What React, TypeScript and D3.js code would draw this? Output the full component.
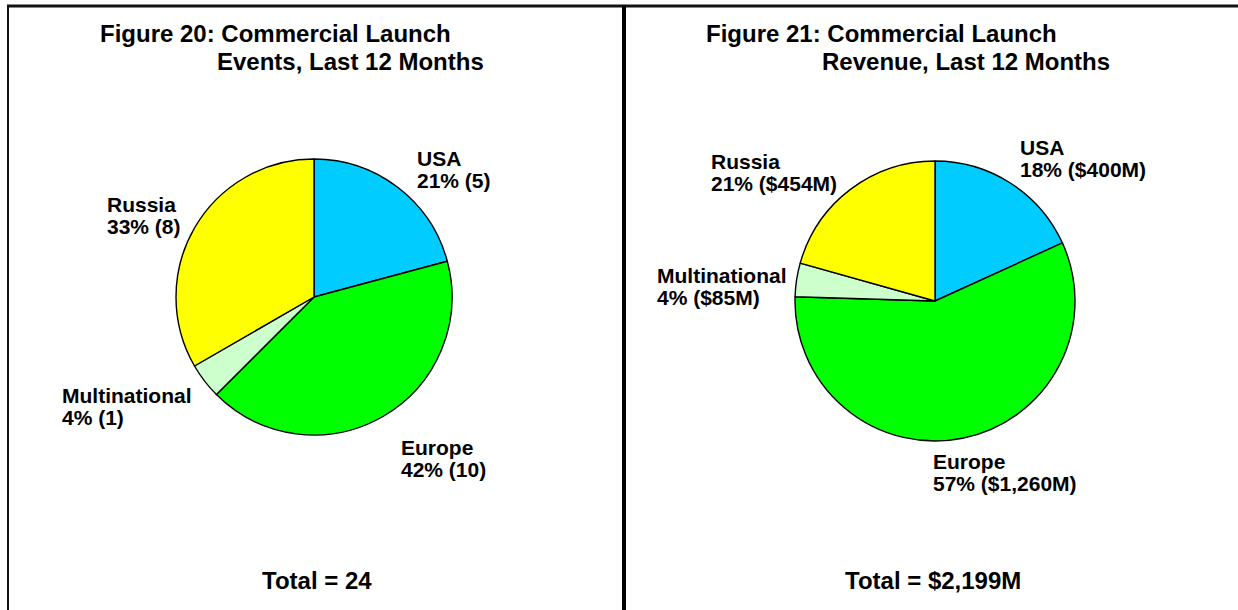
import React from "react";
import * as d3 from "d3";

// chart data
const regions = ["USA", "Europe", "Multinational", "Russia"];
const eventCounts = [5, 10, 1, 8];
const eventPct = [21, 42, 4, 33];
const revenueM = [400, 1260, 85, 454];
const revenuePct = [18, 57, 4, 21];
const sliceColors = ["#00ccff", "#00ff00", "#ccffcc", "#ffff00"];

const eventsTotal = "24";
const revenueTotal = "$2,199M";

const W = 1238;
const H = 610;
const FONT = "'Liberation Sans', Arial, Helvetica, sans-serif";

// label anchors (text start, baseline of first line) per region
const leftLabelPos = [
  [417, 166],
  [401, 455],
  [62, 403],
  [107, 212],
];
const rightLabelPos = [
  [1020, 155],
  [933, 469],
  [657, 283],
  [711, 169],
];

type PanelProps = {
  cx: number;
  cy: number;
  r: number;
  values: number[];
  labels: string[];
  labelPos: number[][];
  title: [string, string];
  titlePos: [number, number, number];
  total: string;
  totalX: number;
};

function PiePanel(p: PanelProps) {
  const pie = d3.pie<number>().sort(null).startAngle(0).endAngle(2 * Math.PI);
  const arcs = pie(p.values);
  const arc = d3.arc<d3.PieArcDatum<number>>().innerRadius(0).outerRadius(p.r);
  const lineH = 22;

  return (
    <g>
      <g fontFamily={FONT} fontWeight="bold" fontSize={24} fill="#000">
        <text x={p.titlePos[0]} y={p.titlePos[2]}>{p.title[0]}</text>
        <text x={p.titlePos[1]} y={p.titlePos[2] + 28}>{p.title[1]}</text>
      </g>
      <g transform={`translate(${p.cx},${p.cy})`}>
        {arcs.map((a, i) => (
          <path key={i} d={arc(a) || ""} fill={sliceColors[i]} stroke="#000" strokeWidth={1.4} strokeLinejoin="round" />
        ))}
      </g>
      <g fontFamily={FONT} fontWeight="bold" fontSize={21} fill="#000">
        {p.labels.map((l, i) => (
          <text key={i} x={p.labelPos[i][0]} y={p.labelPos[i][1]}>
            <tspan x={p.labelPos[i][0]}>{regions[i]}</tspan>
            <tspan x={p.labelPos[i][0]} dy={lineH}>{l}</tspan>
          </text>
        ))}
      </g>
      <text x={p.totalX} y={589} fontFamily={FONT} fontWeight="bold" fontSize={24}>
        {`Total = ${p.total}`}
      </text>
    </g>
  );
}

export default function App() {
  const fmt = d3.format(",");
  const leftLabels = eventCounts.map((v, i) => `${eventPct[i]}% (${v})`);
  const rightLabels = revenueM.map((v, i) => `${revenuePct[i]}% ($${fmt(v)}M)`);

  return (
    <svg width={W} height={H} style={{ position: "absolute", left: 0, top: 0, background: "#fff" }}>
      <rect x={0} y={0} width={W} height={H} fill="#fff" />
      {/* frame */}
      <line x1={7} x2={W} y1={6} y2={6} stroke="#111" strokeWidth={3} />
      <line x1={8} x2={8} y1={5} y2={H} stroke="#111" strokeWidth={2} />
      <line x1={624} x2={624} y1={5} y2={H} stroke="#000" strokeWidth={4} />

      <PiePanel
        cx={314}
        cy={297}
        r={138}
        values={eventCounts}
        labels={leftLabels}
        labelPos={leftLabelPos}
        title={["Figure 20: Commercial Launch", "Events, Last 12 Months"]}
        titlePos={[100, 217, 42]}
        total={eventsTotal}
        totalX={262}
      />
      <PiePanel
        cx={935}
        cy={301}
        r={140}
        values={revenueM}
        labels={rightLabels}
        labelPos={rightLabelPos}
        title={["Figure 21: Commercial Launch", "Revenue, Last 12 Months"]}
        titlePos={[706, 822, 42]}
        total={revenueTotal}
        totalX={845}
      />
    </svg>
  );
}
